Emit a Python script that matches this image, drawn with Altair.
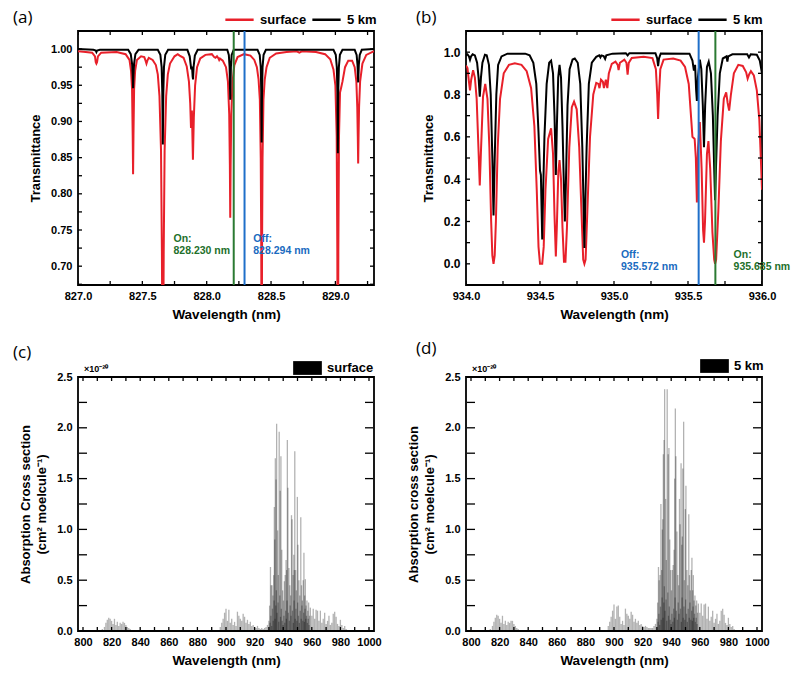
import altair as alt
import pandas as pd

# ---------------- data ----------------
# (a) transmittance near 828 nm: (wavelength nm, transmittance)
a_surface = [(827.000,0.997),(827.060,0.996),(827.110,0.995),(827.132,0.990),(827.138,0.982),(827.143,0.980),(827.148,0.982),(827.155,0.990),(827.180,0.995),(827.300,0.996),(827.370,0.993),(827.400,0.985),(827.412,0.970),(827.420,0.945),(827.425,0.880),(827.428,0.827),(827.431,0.880),(827.436,0.945),(827.444,0.970),(827.458,0.985),(827.490,0.990),(827.515,0.989),(827.525,0.984),(827.532,0.980),(827.539,0.984),(827.550,0.988),(827.580,0.985),(827.605,0.978),(827.620,0.965),(827.633,0.935),(827.645,0.860),(827.652,0.720),(827.659,0.450),(827.666,0.720),(827.673,0.860),(827.685,0.935),(827.698,0.965),(827.715,0.980),(827.750,0.990),(827.775,0.993),(827.790,0.991),(827.820,0.988),(827.845,0.976),(827.862,0.955),(827.872,0.925),(827.878,0.891),(827.885,0.915),(827.893,0.847),(827.900,0.905),(827.910,0.950),(827.925,0.975),(827.950,0.987),(827.990,0.992),(828.040,0.993),(828.058,0.989),(828.068,0.988),(828.080,0.990),(828.092,0.987),(828.097,0.985),(828.103,0.987),(828.125,0.984),(828.150,0.975),(828.165,0.955),(828.175,0.910),(828.180,0.840),(828.183,0.767),(828.186,0.840),(828.191,0.910),(828.201,0.955),(828.215,0.978),(828.240,0.989),(828.290,0.993),(828.340,0.991),(828.370,0.985),(828.390,0.975),(828.403,0.958),(828.413,0.930),(828.420,0.850),(828.424,0.720),(828.427,0.450),(828.430,0.720),(828.434,0.850),(828.441,0.930),(828.451,0.958),(828.465,0.975),(828.490,0.988),(828.540,0.994),(828.620,0.996),(828.700,0.997),(828.720,0.995),(828.740,0.997),(828.850,0.996),(828.920,0.993),(828.960,0.986),(828.985,0.972),(829.000,0.950),(829.010,0.880),(829.015,0.720),(829.019,0.450),(829.023,0.720),(829.028,0.880),(829.036,0.940),(829.045,0.947),(829.055,0.955),(829.075,0.975),(829.100,0.984),(829.130,0.984),(829.150,0.975),(829.163,0.955),(829.170,0.920),(829.174,0.880),(829.177,0.842),(829.180,0.880),(829.184,0.920),(829.192,0.955),(829.210,0.980),(829.240,0.992),(829.300,0.997)]
a_5km = [(827.000,1.000),(827.120,0.999),(827.138,0.998),(827.143,0.996),(827.148,0.998),(827.170,0.999),(827.390,0.999),(827.410,0.993),(827.420,0.980),(827.425,0.965),(827.428,0.946),(827.431,0.965),(827.436,0.980),(827.446,0.993),(827.470,0.999),(827.620,0.999),(827.640,0.992),(827.650,0.975),(827.655,0.940),(827.659,0.868),(827.663,0.940),(827.668,0.975),(827.678,0.992),(827.700,0.999),(827.850,0.999),(827.868,0.990),(827.876,0.978),(827.880,0.972),(827.886,0.976),(827.891,0.962),(827.894,0.958),(827.898,0.975),(827.908,0.991),(827.930,0.999),(828.160,0.999),(828.172,0.992),(828.178,0.975),(828.183,0.930),(828.188,0.975),(828.194,0.992),(828.210,0.999),(828.395,0.999),(828.412,0.992),(828.420,0.975),(828.424,0.940),(828.427,0.871),(828.430,0.940),(828.434,0.975),(828.442,0.992),(828.460,0.999),(828.985,0.999),(829.003,0.992),(829.011,0.975),(829.016,0.940),(829.019,0.856),(829.022,0.940),(829.027,0.975),(829.035,0.992),(829.055,0.999),(829.150,0.999),(829.165,0.992),(829.172,0.978),(829.177,0.954),(829.182,0.978),(829.189,0.992),(829.205,0.999),(829.300,1.000)]

# (b) transmittance near 935 nm
b_surface = [(934.000,0.937),(934.010,0.925),(934.020,0.860),(934.027,0.820),(934.035,0.870),(934.048,0.915),(934.060,0.880),(934.072,0.780),(934.084,0.550),(934.093,0.370),(934.102,0.550),(934.115,0.790),(934.130,0.850),(934.145,0.780),(934.158,0.550),(934.170,0.200),(934.178,0.040),(934.186,0.000),(934.194,0.040),(934.202,0.200),(934.214,0.550),(934.230,0.780),(934.255,0.900),(934.290,0.940),(934.330,0.947),(934.375,0.940),(934.410,0.910),(934.440,0.830),(934.462,0.650),(934.478,0.350),(934.490,0.080),(934.500,0.000),(934.515,0.000),(934.525,0.080),(934.537,0.350),(934.555,0.590),(934.575,0.640),(934.588,0.520),(934.598,0.230),(934.607,0.035),(934.614,0.180),(934.624,0.440),(934.632,0.490),(934.642,0.400),(934.652,0.170),(934.662,0.010),(934.672,0.010),(934.682,0.170),(934.698,0.550),(934.715,0.740),(934.730,0.766),(934.748,0.730),(934.765,0.550),(934.780,0.250),(934.792,0.020),(934.800,0.000),(934.808,0.020),(934.820,0.250),(934.838,0.600),(934.860,0.800),(934.880,0.855),(934.895,0.850),(934.902,0.830),(934.912,0.870),(934.925,0.860),(934.932,0.830),(934.945,0.870),(934.955,0.830),(934.965,0.900),(934.985,0.945),(935.010,0.955),(935.025,0.940),(935.031,0.915),(935.040,0.950),(935.070,0.965),(935.084,0.950),(935.092,0.894),(935.100,0.950),(935.120,0.973),(935.200,0.978),(935.260,0.972),(935.283,0.920),(935.292,0.800),(935.298,0.685),(935.304,0.800),(935.313,0.920),(935.335,0.965),(935.400,0.970),(935.450,0.960),(935.480,0.930),(935.505,0.850),(935.518,0.720),(935.530,0.600),(935.545,0.590),(935.553,0.500),(935.560,0.290),(935.568,0.550),(935.580,0.670),(935.592,0.450),(935.602,0.160),(935.608,0.100),(935.615,0.200),(935.628,0.520),(935.638,0.580),(935.650,0.450),(935.665,0.150),(935.677,0.020),(935.683,0.000),(935.690,0.020),(935.705,0.250),(935.722,0.580),(935.742,0.780),(935.758,0.810),(935.768,0.760),(935.778,0.724),(935.790,0.800),(935.810,0.900),(935.840,0.940),(935.870,0.935),(935.893,0.905),(935.903,0.875),(935.913,0.895),(935.925,0.910),(935.945,0.890),(935.965,0.820),(935.982,0.680),(935.992,0.500),(936.000,0.350)]
b_5km = [(934.000,0.985),(934.010,0.990),(934.020,0.980),(934.027,0.964),(934.034,0.980),(934.045,0.990),(934.060,0.985),(934.075,0.950),(934.085,0.880),(934.093,0.790),(934.101,0.880),(934.111,0.950),(934.128,0.988),(934.140,0.985),(934.155,0.940),(934.167,0.800),(934.178,0.500),(934.186,0.228),(934.194,0.500),(934.205,0.800),(934.217,0.940),(934.240,0.980),(934.280,0.993),(934.400,0.993),(934.430,0.985),(934.455,0.950),(934.475,0.850),(934.490,0.620),(934.500,0.440),(934.506,0.420),(934.511,0.250),(934.515,0.115),(934.520,0.300),(934.530,0.600),(934.545,0.850),(934.562,0.950),(934.575,0.960),(934.588,0.900),(934.598,0.700),(934.607,0.420),(934.614,0.650),(934.623,0.880),(934.632,0.940),(934.642,0.880),(934.652,0.650),(934.661,0.380),(934.668,0.200),(934.675,0.380),(934.686,0.750),(934.700,0.920),(934.720,0.965),(934.735,0.970),(934.755,0.950),(934.772,0.850),(934.786,0.550),(934.795,0.250),(934.800,0.075),(934.805,0.250),(934.815,0.550),(934.830,0.850),(934.850,0.950),(934.880,0.978),(934.900,0.985),(934.908,0.975),(934.915,0.985),(934.930,0.982),(934.940,0.968),(934.948,0.985),(934.990,0.993),(935.080,0.995),(935.092,0.985),(935.104,0.995),(935.280,0.995),(935.292,0.970),(935.298,0.934),(935.304,0.970),(935.316,0.994),(935.510,0.993),(935.530,0.960),(935.540,0.913),(935.548,0.940),(935.555,0.820),(935.560,0.770),(935.567,0.880),(935.580,0.965),(935.590,0.920),(935.600,0.750),(935.608,0.551),(935.616,0.750),(935.628,0.930),(935.640,0.955),(935.655,0.900),(935.668,0.700),(935.677,0.450),(935.683,0.300),(935.689,0.450),(935.700,0.700),(935.715,0.900),(935.735,0.970),(935.760,0.980),(935.766,0.955),(935.772,0.980),(935.800,0.990),(935.900,0.990),(935.912,0.975),(935.924,0.990),(935.965,0.988),(935.985,0.960),(936.000,0.900)]

# on/off wavelengths drawn as vertical lines
a_lines = [(828.21, "#2b7a32"), (828.294, "#1f6fc9")]
b_lines = [(935.572, "#1f6fc9"), (935.685, "#2b7a32")]
# annotations: (x, y-top, text, colour)
a_notes = [(827.742, 0.745, "On:\n828.230 nm", "#23702b"), (828.362, 0.745, "Off:\n828.294 nm", "#1a6bbf")]
b_notes = [(935.047, 0.066, "Off:\n935.572 nm", "#1a6bbf"), (935.808, 0.066, "On:\n935.685 nm", "#23702b")]

# (c)/(d) absorption cross section lines (units of 1e-20 cm^2/molecule)
xs_wl = [813.5,815,816,817,818,819,820,821,822,823,824,825,826,827,828,829,830,831,832,833,
         896,897,898,899,900,901,902,903,904,905,906,907,908,909,910,911,912,913,914,915,916,917,918,919,920,921,922,923,924,925,926,927,928,929,930,
         930.5,931.1,931.6,932.2,932.8,933.3,933.8,934.1,934.5,935.0,935.4,936.1,936.6,937.2,937.9,938.4,939.0,939.6,940.2,940.8,941.4,942.0,942.4,942.9,943.3,944.0,944.6,945.2,945.8,946.2,946.9,947.4,947.8,948.1,948.7,949.2,949.9,950.3,951.0,951.6,952.3,952.8,953.4,954.0,954.5,955.0,955.5,956.0,956.6,957.2,957.8,958.4,
         930.8,931.4,931.9,932.5,933.0,933.6,934.3,934.8,935.2,935.7,936.4,936.9,937.6,938.1,938.7,939.3,939.9,940.5,941.1,941.7,942.2,942.7,943.6,944.3,944.9,945.5,946.5,947.1,947.6,948.4,948.9,949.5,950.1,950.7,951.3,951.9,952.6,953.1,953.7,954.3,954.8,955.3,955.8,956.3,956.9,957.5,958.1,
         959,960,961,962,963,964,965,966,967,968,969,970,971,972,973,974,975,976,977,978,979,980,981,982,983,984]
xs_surface = [0.02,0.04,0.08,0.11,0.13,0.12,0.10,0.07,0.12,0.06,0.09,0.05,0.08,0.07,0.09,0.08,0.06,0.04,0.03,0.02,
              0.04,0.08,0.12,0.18,0.22,0.10,0.21,0.08,0.12,0.06,0.09,0.05,0.19,0.15,0.12,0.10,0.17,0.14,0.08,0.11,0.07,0.09,0.05,0.06,0.04,0.03,0.05,0.03,0.02,0.03,0.02,0.03,0.04,0.06,0.10,
              0.25,0.63,0.45,0.45,0.35,0.55,1.22,0.90,1.70,1.49,2.04,0.99,0.55,1.96,1.38,1.72,0.80,0.40,0.30,0.49,0.55,0.70,0.60,1.88,1.41,0.62,0.45,0.35,1.14,1.10,0.55,0.75,0.60,1.77,0.60,0.40,1.32,0.85,0.50,0.35,1.12,0.45,0.30,0.50,0.77,0.35,0.51,0.25,0.30,0.20,0.28,0.15,
              0.08,0.15,0.05,0.22,0.10,0.30,0.12,0.25,0.40,0.18,0.28,0.09,0.35,0.14,0.22,0.10,0.06,0.15,0.08,0.20,0.12,0.30,0.18,0.10,0.25,0.15,0.20,0.08,0.30,0.12,0.22,0.10,0.28,0.15,0.08,0.20,0.12,0.25,0.10,0.18,0.09,0.22,0.12,0.15,0.08,0.12,0.06,
              0.23,0.15,0.22,0.12,0.21,0.20,0.10,0.20,0.08,0.12,0.18,0.07,0.10,0.15,0.06,0.08,0.17,0.19,0.14,0.07,0.05,0.11,0.06,0.03,0.05,0.02]
xs_5km = [0.02,0.05,0.09,0.13,0.16,0.15,0.12,0.08,0.15,0.07,0.10,0.06,0.09,0.08,0.10,0.10,0.07,0.05,0.03,0.02,
          0.05,0.09,0.14,0.20,0.26,0.12,0.24,0.25,0.14,0.07,0.10,0.06,0.22,0.17,0.15,0.12,0.19,0.16,0.09,0.12,0.08,0.10,0.06,0.07,0.05,0.04,0.05,0.04,0.03,0.03,0.03,0.03,0.05,0.07,0.12,
          0.28,0.63,0.50,0.55,1.25,0.60,1.00,1.10,1.74,1.88,2.38,1.30,0.70,2.38,1.74,1.80,0.90,0.60,0.40,0.60,0.65,0.80,1.50,2.19,1.72,0.98,0.55,0.45,1.30,1.05,1.65,0.85,0.93,1.60,2.06,0.50,1.20,1.43,0.60,0.45,1.15,0.55,0.40,0.60,0.72,0.40,0.55,0.30,0.35,0.25,0.30,0.18,
          0.09,0.17,0.06,0.24,0.11,0.33,0.13,0.28,0.44,0.20,0.31,0.10,0.38,0.15,0.24,0.11,0.07,0.17,0.09,0.22,0.13,0.33,0.20,0.11,0.28,0.17,0.22,0.09,0.33,0.13,0.24,0.11,0.31,0.17,0.09,0.22,0.13,0.28,0.11,0.20,0.10,0.24,0.13,0.17,0.09,0.13,0.07,
          0.27,0.18,0.27,0.15,0.26,0.27,0.12,0.24,0.10,0.14,0.20,0.08,0.12,0.17,0.07,0.10,0.20,0.22,0.16,0.08,0.06,0.13,0.07,0.04,0.05,0.02]

# axis tick labels and (inward) tick positions
a_xlabels = [827.0, 827.5, 828.0, 828.5, 829.0]
a_ylabels = [0.70, 0.75, 0.80, 0.85, 0.90, 0.95, 1.00]
b_xlabels = [934.0, 934.5, 935.0, 935.5, 936.0]
b_ylabels = [0.0, 0.2, 0.4, 0.6, 0.8, 1.0]
cd_xlabels = [800, 820, 840, 860, 880, 900, 920, 940, 960, 980, 1000]
cd_ylabels = [0.0, 0.5, 1.0, 1.5, 2.0, 2.5]
a_xticks = [827.0 + 0.25 * i for i in range(10)]
a_yticks = [0.675 + 0.025 * i for i in range(15)]
b_xticks = [934.0 + 0.25 * i for i in range(9)]
b_yticks = [-0.1 + 0.1 * i for i in range(13)]
cd_xticks = [800 + 10 * i for i in range(21)]
cd_yticks = [0.25 * i for i in range(11)]

# ---------------- styling ----------------
W, H = 296, 254
RED = "#e8202a"
FONT = "Liberation Sans"
TFONT = "Open Sans"


def lab_x(vals, fmt):
    return alt.Axis(orient="bottom", values=vals, format=fmt, ticks=False, tickSize=0, domain=False, grid=False,
                    labelPadding=5, labelFont=FONT, labelFontSize=11, labelFontWeight="bold", labelColor="black",
                    labelFlush=False, labelOverlap=False, title="Wavelength (nm)", titleFont=FONT, titleFontSize=13.5,
                    titleFontWeight="bold", titleColor="black", titlePadding=6)


def lab_y(vals, fmt, title, fs=11):
    return alt.Axis(orient="left", values=vals, format=fmt, ticks=False, tickSize=0, domain=False, grid=False,
                    labelPadding=6, labelFont=FONT, labelFontSize=fs, labelFontWeight="bold", labelColor="black",
                    labelFlush=False, labelOverlap=False, title=title, titleFont=FONT, titleFontSize=13,
                    titleFontWeight="bold", titleColor="black", titlePadding=8, titleLineHeight=16.5)


def inward_ticks(xt, yt, xdom, ydom, xs, ys, ax, ay):
    dv = pd.DataFrame([(v, e) for v in xt for e in ydom], columns=["v", "e"])
    dh = pd.DataFrame([(v, e) for v in yt for e in xdom], columns=["v", "e"])
    vt = alt.Chart(dv).mark_tick(orient="vertical", size=8, thickness=1.3, color="black", opacity=1,
                                 clip=True).encode(
        x=alt.X("v:Q", scale=xs, axis=ax), y=alt.Y("e:Q", scale=ys, axis=ay))
    ht = alt.Chart(dh).mark_tick(orient="horizontal", size=8, thickness=1.3, color="black", opacity=1,
                                 clip=True).encode(
        y=alt.Y("v:Q", scale=ys, axis=ay), x=alt.X("e:Q", scale=xs, axis=ax))
    return [vt, ht]


def panel_title(txt, dx, dy):
    return alt.TitleParams(txt, anchor="start", frame="group", dx=dx, dy=dy, offset=0,
                           font=TFONT, fontSize=17, fontWeight="normal", color="black")


def line_legend(lx, ly):
    return alt.Legend(orient="none", legendX=lx, legendY=ly, direction="horizontal", symbolType="stroke",
                      symbolSize=800, symbolStrokeWidth=2.5, labelFont=FONT, labelFontSize=13,
                      labelFontWeight="bold", labelColor="black", labelOffset=5, columnPadding=0, padding=0)


def trans_panel(surf, km5, lines, notes, xdom, ydom, xlab, ylab, xt, yt, yfmt, yfs, lx, ly, label, tdx, tdy):
    cs = alt.Scale(domain=["surface", "5 km"], range=[RED, "black"])
    xs = alt.Scale(domain=xdom, nice=False, zero=False)
    ys = alt.Scale(domain=ydom, nice=False, zero=False)
    ax = lab_x(xlab, ".1f")
    ay = lab_y(ylab, yfmt, "Transmittance", yfs)
    d_s = pd.DataFrame(surf, columns=["wl", "T"]).assign(series="surface")
    d_k = pd.DataFrame(km5, columns=["wl", "T"]).assign(series="5 km")
    d_l = pd.DataFrame(lines, columns=["wl", "col"])
    d_n = pd.DataFrame(notes, columns=["wl", "T", "txt", "col"])
    leg = line_legend(lx, ly)
    red = alt.Chart(d_s).mark_line(clip=True, strokeWidth=2).encode(
        x=alt.X("wl:Q", scale=xs, axis=ax),
        y=alt.Y("T:Q", scale=ys, axis=ay),
        color=alt.Color("series:N", scale=cs, legend=leg, title=None))
    blk = alt.Chart(d_k).mark_line(clip=True, strokeWidth=2).encode(
        x=alt.X("wl:Q", scale=xs, axis=ax),
        y=alt.Y("T:Q", scale=ys, axis=ay),
        color=alt.Color("series:N", scale=cs, legend=leg, title=None))
    rules = alt.Chart(d_l).mark_rule(strokeWidth=2).encode(
        x=alt.X("wl:Q", scale=xs, axis=ax),
        stroke=alt.Stroke("col:N", scale=None, legend=None))
    txt = alt.Chart(d_n).mark_text(align="left", baseline="top", lineBreak="\n", lineHeight=12, font=FONT,
                                   fontSize=10.5, fontWeight="bold").encode(
        x=alt.X("wl:Q", scale=xs, axis=ax),
        y=alt.Y("T:Q", scale=ys, axis=ay),
        text="txt:N",
        fill=alt.Fill("col:N", scale=None, legend=None))
    layers = [red, blk, rules, txt] + inward_ticks(xt, yt, xdom, ydom, xs, ys, ax, ay)
    return alt.layer(*layers).properties(width=W, height=H, title=panel_title(label, tdx, tdy))


def xs_panel(vals, name, ytitle, lx, ly, label, tdx, tdy):
    xdom, ydom = [800, 1000], [0, 2.5]
    xs = alt.Scale(domain=xdom, nice=False, zero=False)
    ys = alt.Scale(domain=ydom, nice=False, zero=False)
    ax = lab_x(cd_xlabels, "d")
    ay = lab_y(cd_ylabels, ".1f", ytitle)
    d = pd.DataFrame({"wl": xs_wl, "v": vals}).assign(series=name)
    d_u = pd.DataFrame({"wl": [800], "v": [2.5], "txt": ["×10⁻²⁰"]})
    bars = alt.Chart(d).mark_bar(orient="vertical", size=1.3, opacity=0.3).encode(
        x=alt.X("wl:Q", scale=xs, axis=ax),
        y=alt.Y("v:Q", scale=ys, stack=None, axis=ay),
        color=alt.Color("series:N", scale=alt.Scale(domain=[name], range=["black"]), title=None,
                        legend=alt.Legend(orient="none", legendX=lx, legendY=ly, symbolType="M-1,-0.48H1V0.48H-1Z",
                                          symbolSize=824, symbolOpacity=1, symbolStrokeWidth=0,
                                          symbolFillColor="black", labelFont=FONT, labelFontSize=13,
                                          labelFontWeight="bold", labelColor="black", labelOffset=5, padding=0)))
    unit = alt.Chart(d_u).mark_text(align="left", baseline="bottom", dx=1, dy=-3, font=FONT, fontSize=9,
                                    fontWeight="bold", color="black").encode(
        x=alt.X("wl:Q", scale=xs, axis=ax),
        y=alt.Y("v:Q", scale=ys, axis=ay),
        text="txt:N")
    layers = [bars, unit] + inward_ticks(cd_xticks, cd_yticks, xdom, ydom, xs, ys, ax, ay)
    return alt.layer(*layers).properties(width=W, height=H, title=panel_title(label, tdx, tdy))


pa = trans_panel(a_surface, a_5km, a_lines, a_notes, [827.0, 829.3], [0.674, 1.025], a_xlabels, a_ylabels,
                 a_xticks, a_yticks, ".2f", 11, 146, -27, "(a)", -65, 23)
pb = trans_panel(b_surface, b_5km, b_lines, b_notes, [934.0, 936.0], [-0.1, 1.1], b_xlabels, b_ylabels,
                 b_xticks, b_yticks, ".1f", 12, 144, -27, "(b)", -50, 23)
pc = xs_panel(xs_surface, "surface", ["Absorption Cross section", "(cm² moelcule⁻¹)"], 215, -23.5, "(c)", -65, 8.5)
pd_ = xs_panel(xs_5km, "5 km", ["Absorption cross section", "(cm² moelcule⁻¹)"], 234, -25.5, "(d)", -50, 6.5)

chart = alt.concat(pa, pb, pc, pd_, columns=2, spacing=92, bounds="flush").resolve_scale(
    color="independent").resolve_legend(color="independent").properties(
    padding={"left": 12, "top": 3, "right": 5, "bottom": 5},
    background="white",
).configure_view(stroke="black", strokeWidth=1.8).configure_axis(
    labelOverlap=False, labelFlush=False, labelBound=False)

chart.save("out.html", embed_options={"renderer": "svg", "actions": False})
